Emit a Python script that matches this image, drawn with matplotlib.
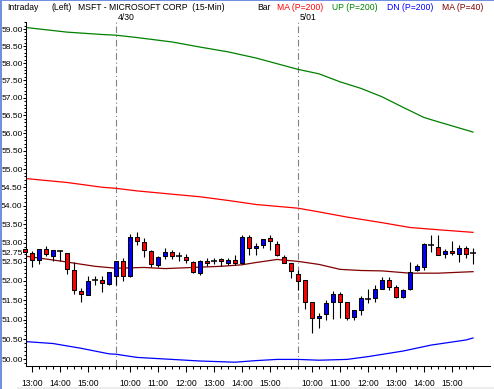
import numpy as np
import matplotlib
matplotlib.use("Agg")
import matplotlib.pyplot as plt
from matplotlib.ticker import FixedLocator, FuncFormatter, NullFormatter
from matplotlib.patches import Rectangle

plt.rcParams['font.family'] = ['Liberation Sans', 'DejaVu Sans']

# 15-min bars: 4/29 12:45-15:45, 4/30 9:30-15:45, 5/01 9:30-15:45
opens = [52.83, 52.74, 52.55, 52.83, 52.66, 52.79, 52.74, 52.28, 51.73, 51.63,
         52.02, 52.02, 51.92, 52.13, 52.51, 52.12, 53.15, 53.03, 52.78, 52.42,
         52.64, 52.75, 52.65, 52.62, 52.50, 52.20, 52.52, 52.53, 52.56, 52.46,
         52.54, 52.47, 53.15, 52.86, 52.93, 53.13, 52.98, 52.63, 52.46, 52.18,
         52.01, 51.44, 51.03, 51.14, 51.44, 51.66, 51.44, 51.06, 51.25, 51.53,
         51.56, 51.80, 52.02, 51.84, 51.59, 51.78, 52.29, 52.36, 52.94, 52.88,
         52.71, 52.78, 52.71, 52.86, 52.74]
highs = [52.85, 52.79, 52.83, 52.92, 52.80, 52.81, 52.74, 52.49, 51.82, 52.12,
         52.12, 52.12, 52.24, 52.51, 52.60, 53.24, 53.30, 53.12, 52.81, 52.66,
         52.86, 52.81, 52.75, 52.70, 52.53, 52.55, 52.59, 52.59, 52.60, 52.60,
         52.67, 53.22, 53.22, 53.00, 53.11, 53.22, 53.05, 52.67, 52.46, 52.28,
         52.01, 51.44, 51.16, 51.51, 51.73, 51.71, 51.44, 51.25, 51.60, 51.78,
         51.89, 52.10, 52.10, 51.90, 51.79, 52.49, 52.44, 53.00, 53.22, 53.22,
         52.83, 53.04, 52.94, 52.91, 52.86]
lows = [52.76, 52.37, 52.45, 52.66, 52.51, 52.51, 52.17, 51.66, 51.45, 51.63,
        51.89, 51.72, 51.88, 51.88, 51.99, 52.10, 52.93, 52.62, 52.37, 52.37,
        52.57, 52.57, 52.51, 52.48, 52.20, 52.15, 52.40, 52.43, 52.40, 52.42,
        52.42, 52.43, 52.67, 52.67, 52.86, 52.80, 52.64, 52.46, 52.08, 51.76,
        51.28, 50.66, 50.79, 50.99, 51.01, 51.03, 50.99, 50.99, 51.12, 51.43,
        51.45, 51.80, 51.75, 51.55, 51.56, 51.76, 52.26, 52.28, 52.77, 52.69,
        52.60, 52.67, 52.50, 52.60, 52.45]
closes = [52.76, 52.55, 52.83, 52.70, 52.80, 52.79, 52.30, 51.76, 51.65, 52.00,
          52.02, 51.94, 52.24, 52.51, 52.12, 53.15, 53.05, 52.81, 52.44, 52.62,
          52.75, 52.66, 52.65, 52.55, 52.22, 52.52, 52.47, 52.53, 52.51, 52.54,
          52.46, 53.15, 52.86, 52.92, 53.11, 53.04, 52.67, 52.48, 52.27, 52.00,
          51.46, 51.03, 51.09, 51.43, 51.66, 51.44, 51.03, 51.25, 51.56, 51.53,
          51.80, 52.02, 51.85, 51.58, 51.76, 52.24, 52.38, 52.97, 52.94, 52.69,
          52.78, 52.72, 52.86, 52.71, 52.74]

# indicator lines read at some bars
up_bars = [0, 6, 11, 13, 16, 21, 25, 29, 33, 39, 42, 45, 48, 51, 54, 57, 59, 64]
up_vals = [59.05, 58.91, 58.84, 58.82, 58.75, 58.62, 58.47, 58.33, 58.15, 57.82,
           57.69, 57.46, 57.27, 57.03, 56.73, 56.44, 56.32, 56.03]
ma200_bars = [0, 6, 11, 13, 16, 21, 25, 29, 33, 39, 42, 46, 51, 55, 59, 64]
ma200_vals = [54.74, 54.63, 54.50, 54.47, 54.40, 54.31, 54.24, 54.14, 54.03, 53.93,
              53.83, 53.69, 53.54, 53.41, 53.35, 53.28]
dn_bars = [0, 4, 8, 12, 13, 16, 21, 25, 30, 33, 36, 39, 42, 46, 49, 54, 58, 63, 64]
dn_vals = [50.44, 50.39, 50.27, 50.13, 50.12, 50.04, 49.99, 49.95, 49.92, 49.96,
           49.99, 49.99, 49.97, 49.99, 50.06, 50.20, 50.35, 50.48, 50.53]
ma40_bars = [0, 5, 10, 13, 17, 20, 24, 28, 31, 33, 36, 39, 42, 45, 48, 51, 55, 59, 64]
ma40_vals = [52.65, 52.52, 52.38, 52.33, 52.35, 52.32, 52.35, 52.38, 52.42, 52.48,
             52.56, 52.51, 52.43, 52.30, 52.27, 52.26, 52.20, 52.20, 52.24]

hour_bars = [1, 5, 9, 15, 19, 23, 27, 31, 35, 41, 45, 49, 53, 57, 61]
hour_labels = ['13:00', '14:00', '15:00',
               '10:00', '11:00', '12:00', '13:00', '14:00', '15:00',
               '10:00', '11:00', '12:00', '13:00', '14:00', '15:00']
day_bars = [13, 39]
day_labels = ['4/30', '5/01']
last_price = 52.75

W, H = 494, 389
fig = plt.figure(figsize=(W / 100, H / 100), dpi=100)
fig.patch.set_facecolor('white')
ax = fig.add_axes([26 / W, 1 - 366 / H, 464 / W, 344 / H])

ax.set_yscale('log')
ax.set_ylim(49.825, 59.21)
ax.set_xlim(1 / 7, 465 / 7)

x = np.arange(len(closes))
o = np.array(opens); c = np.array(closes)
ax.vlines(x, lows, highs, color='black', lw=0.8, zorder=3, clip_on=False)
doji = np.abs(c - o) < 0.005
body = ~doji
cols = np.where(c > o, '#0000ff', '#ff0000')
ax.bar(x[body], (c - o)[body], bottom=o[body], width=0.66, color=cols[body],
       edgecolor='black', linewidth=0.75, zorder=4, clip_on=False)
ax.hlines(o[doji], x[doji] - 0.36, x[doji] + 0.36, color='black', lw=1.1, zorder=4)

ax.plot(up_bars, up_vals, color='#008000', lw=0.9, zorder=2)
ax.plot(ma200_bars, ma200_vals, color='#ff0000', lw=0.9, zorder=2)
ax.plot(dn_bars, dn_vals, color='#0000ff', lw=0.9, zorder=2)
ax.plot(ma40_bars, ma40_vals, color='#800000', lw=0.9, zorder=2)

for b in day_bars:
    ax.axvline(b, color='#808080', lw=0.8, dashes=(6, 2.5, 1, 2.5), zorder=1)

# y axis
major = list(np.arange(50.0, 59.01, 0.5)) + [last_price]
ax.yaxis.set_major_locator(FixedLocator(major))
ax.yaxis.set_major_formatter(FuncFormatter(lambda v, p: f'{v:.2f}'))
ax.yaxis.set_minor_locator(FixedLocator(np.arange(49.9, 59.21, 0.1)))
ax.yaxis.set_minor_formatter(NullFormatter())
ax.tick_params(axis='y', which='major', length=2.2, width=0.75, pad=0.3, labelsize=6.1)
ax.tick_params(axis='y', which='minor', length=1.4, width=0.75)

# x axis
ax.set_xticks(hour_bars)
ax.set_xticklabels(hour_labels)
ax.xaxis.set_minor_locator(FixedLocator(x))
ax.tick_params(axis='x', which='major', length=4.3, width=0.75, pad=5, labelsize=6.2)
ax.tick_params(axis='x', which='minor', length=2, width=0.75)

for s in ['top', 'right']:
    ax.spines[s].set_visible(False)
for s in ['left', 'bottom']:
    ax.spines[s].set_linewidth(0.75)

# header
def ftext(px, py, s, color='black', size=6.2, ha='left'):
    fig.text(px / W, 1 - py / H, s, color=color, fontsize=size, ha=ha, va='baseline')

ftext(7, 10, 'Intraday')
ftext(52, 10, '(Left)')
ftext(78, 10, 'MSFT - MICROSOFT CORP  (15-Min)')
ftext(257, 10, 'Bar')
ftext(277, 10, 'MA (P=200)', color='#ff0000')
ftext(332, 10, 'UP (P=200)', color='#008000')
ftext(387, 10, 'DN (P=200)', color='#0000ff')
ftext(442, 10, 'MA (P=40)', color='#800000')
for b, lab in zip(day_bars, day_labels):
    ftext(25 + 7 * b + 2, 19.5, lab)

# window borders
fig.add_artist(Rectangle((0, 0), 1.5 / W, 1, transform=fig.transFigure,
                         color='#7090e0', lw=0))
fig.add_artist(Rectangle((0, 1 - 1.2 / H), 1, 1.2 / H, transform=fig.transFigure,
                         color='#7090e0', lw=0))
fig.add_artist(Rectangle((17 / W, 0), 1, 2.5 / H, transform=fig.transFigure,
                         color='#ececec', lw=0))

fig.savefig('out.png', dpi=100)
